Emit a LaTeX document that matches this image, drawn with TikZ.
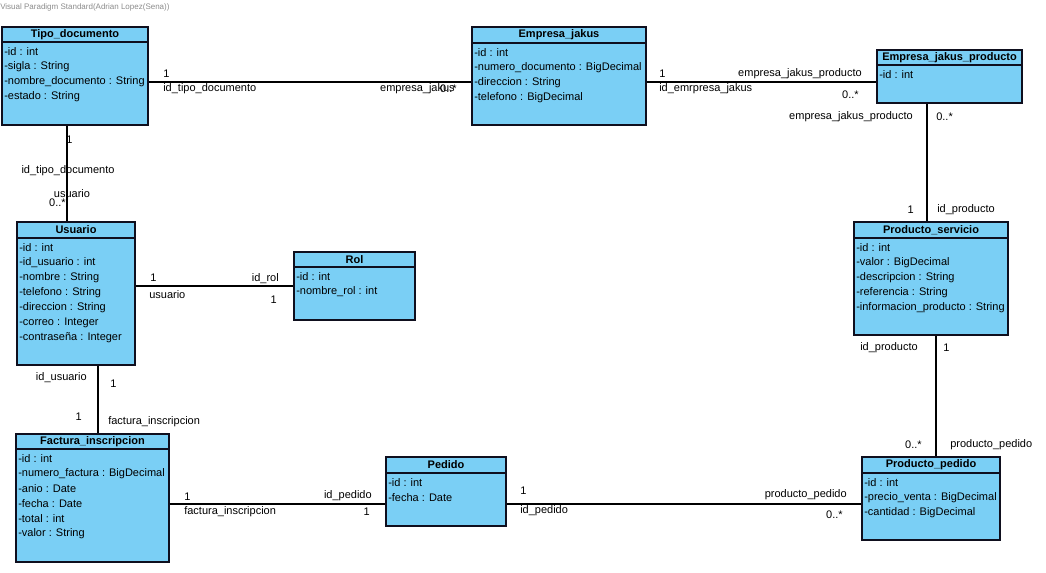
\documentclass[tikz,border=0pt]{standalone}
\usepackage{fontspec}
\setmainfont{Liberation Sans}
\definecolor{boxblue}{RGB}{122,207,245}
\definecolor{hdrgray}{RGB}{140,140,140}
\definecolor{edge}{RGB}{15,15,30}
\newcommand\lblfont{\fontsize{8.25}{10}\selectfont}
\tikzset{
  clsbox/.style={draw=edge, fill=boxblue, line width=1pt, inner sep=0pt},
  clsline/.style={draw=edge, line width=1pt},
  clstitle/.style={font=\lblfont\bfseries, inner sep=0pt},
  attr/.style={font=\lblfont, inner sep=0pt, anchor=west},
  assoc/.style={draw=black, line width=0.8pt},
  lbl/.style={font=\lblfont, inner sep=0pt},
  wm/.style={font=\fontsize{6}{7}\selectfont, text=hdrgray, inner sep=0pt, anchor=west}
}
\newcommand\umlcls[8]{%
  \node[clsbox, minimum width={(#4-#2)*0.75pt}, minimum height={(#5-#3)*0.75pt}] (#1) at ({(#2+#4)/2},{(#3+#5)/2}) {};
  \draw[clsline] (#1.west |- 0,#6) -- (#1.east |- 0,#6);
  \node[clstitle] (#1-t) at ({(#2+#4)/2},{(#3+#6)/2}) {#7};
  \foreach \a [count=\i] in {#8} {\node[attr] at ({#2+2},{#6+10+15*(\i-1)}) {\a};}
}
\begin{document}
\begin{tikzpicture}[x=0.75pt,y=-0.75pt]
\useasboundingbox[fill=white] (0,0) rectangle (1046,572);
\node[wm] (wmark) at (0,7) {Visual Paradigm Standard(Adrian Lopez(Sena))};

\umlcls{td}{2}{27}{148}{125}{42}{Tipo\_documento}{-id : int, -sigla : String, -nombre\_documento : String, -estado : String}
\umlcls{ej}{472}{27}{646}{125}{43}{Empresa\_jakus}{-id : int, -numero\_documento : BigDecimal, -direccion : String, -telefono : BigDecimal}
\umlcls{ejp}{877}{50}{1022}{103}{65}{Empresa\_jakus\_producto}{-id : int}
\umlcls{ps}{854}{222}{1008}{335}{238}{Producto\_servicio}{-id : int, -valor : BigDecimal, -descripcion : String, -referencia : String, -informacion\_producto : String}
\umlcls{us}{17}{222}{135}{365}{238}{Usuario}{-id : int, -id\_usuario : int, -nombre : String, -telefono : String, -direccion : String, -correo : Integer, -contraseña : Integer}
\umlcls{rol}{294}{252}{415}{320}{267}{Rol}{-id : int, -nombre\_rol : int}
\umlcls{fi}{16}{434}{169}{562}{449}{Factura\_inscripcion}{-id : int, -numero\_factura : BigDecimal, -anio : Date, -fecha : Date, -total : int, -valor : String}
\umlcls{pe}{386}{457}{506}{526}{473}{Pedido}{-id : int, -fecha : Date}
\umlcls{pp}{862}{457}{1000}{540}{473}{Producto\_pedido}{-id : int, -precio\_venta : BigDecimal, -cantidad : BigDecimal}

% connectors
\draw[assoc] (td.east |- 0,82) -- (ej.west |- 0,82);
\draw[assoc] (ej.east |- 0,82) -- (ejp.west |- 0,82);
\draw[assoc] (ejp.south -| 927,0) -- (ps.north -| 927,0);
\draw[assoc] (ps.south -| 936,0) -- (pp.north -| 936,0);
\draw[assoc] (pe.east |- 0,504) -- (pp.west |- 0,504);
\draw[assoc] (fi.east |- 0,504) -- (pe.west |- 0,504);
\draw[assoc] (us.east |- 0,286) -- (rol.west |- 0,286);
\draw[assoc] (td.south -| 67,0) -- (us.north -| 67,0);
\draw[assoc] (us.south -| 98,0) -- (fi.north -| 98,0);

% labels: Tipo_documento - Empresa_jakus
\node[lbl, anchor=west] (l1) at (163,74) {1};
\node[lbl, anchor=west] (l2) at (163,89) {id\_tipo\_documento};
\node[lbl, anchor=east] (l3) at (455,89) {empresa\_jakus};
\node[lbl, anchor=east] (l4) at (457,89) {0..*};
% Empresa_jakus - Empresa_jakus_producto
\node[lbl, anchor=west] (l5) at (659,74) {1};
\node[lbl, anchor=west] (l6) at (659,89) {id\_emrpresa\_jakus};
\node[lbl, anchor=east] (l7) at (862,74) {empresa\_jakus\_producto};
\node[lbl, anchor=east] (l8) at (859,95) {0..*};
% Empresa_jakus_producto - Producto_servicio
\node[lbl, anchor=east] (l9) at (913,117) {empresa\_jakus\_producto};
\node[lbl, anchor=west] (l10) at (936,117) {0..*};
\node[lbl, anchor=east] (l11) at (914,210) {1};
\node[lbl, anchor=west] (l12) at (937,210) {id\_producto};
% Producto_servicio - Producto_pedido
\node[lbl, anchor=east] (l13) at (918,348) {id\_producto};
\node[lbl, anchor=west] (l14) at (943,348) {1};
\node[lbl, anchor=east] (l15) at (922,445) {0..*};
\node[lbl, anchor=west] (l16) at (950,445) {producto\_pedido};
% Pedido - Producto_pedido
\node[lbl, anchor=west] (l17) at (520,491) {1};
\node[lbl, anchor=west] (l18) at (520,511) {id\_pedido};
\node[lbl, anchor=east] (l19) at (847,495) {producto\_pedido};
\node[lbl, anchor=east] (l20) at (843,515) {0..*};
% Factura - Pedido
\node[lbl, anchor=west] (l21) at (184,497) {1};
\node[lbl, anchor=west] (l22) at (184,512) {factura\_inscripcion};
\node[lbl, anchor=east] (l23) at (372,496) {id\_pedido};
\node[lbl, anchor=east] (l24) at (370,512) {1};
% Usuario - Rol
\node[lbl, anchor=west] (l25) at (150,278) {1};
\node[lbl, anchor=west] (l26) at (149,295) {usuario};
\node[lbl, anchor=east] (l27) at (279,279) {id\_rol};
\node[lbl, anchor=east] (l28) at (277,300) {1};
% Tipo_documento - Usuario
\node[lbl, anchor=west] (l29) at (66,140) {1};
\node[lbl] (l30) at (68,171) {id\_tipo\_documento};
\node[lbl] (l31) at (72,194) {usuario};
\node[lbl, anchor=east] (l32) at (66,203) {0..*};
% Usuario - Factura
\node[lbl, anchor=east] (l33) at (87,378) {id\_usuario};
\node[lbl, anchor=west] (l34) at (110,384) {1};
\node[lbl, anchor=east] (l35) at (82,417) {1};
\node[lbl, anchor=west] (l36) at (108,422) {factura\_inscripcion};
\end{tikzpicture}
\end{document}
